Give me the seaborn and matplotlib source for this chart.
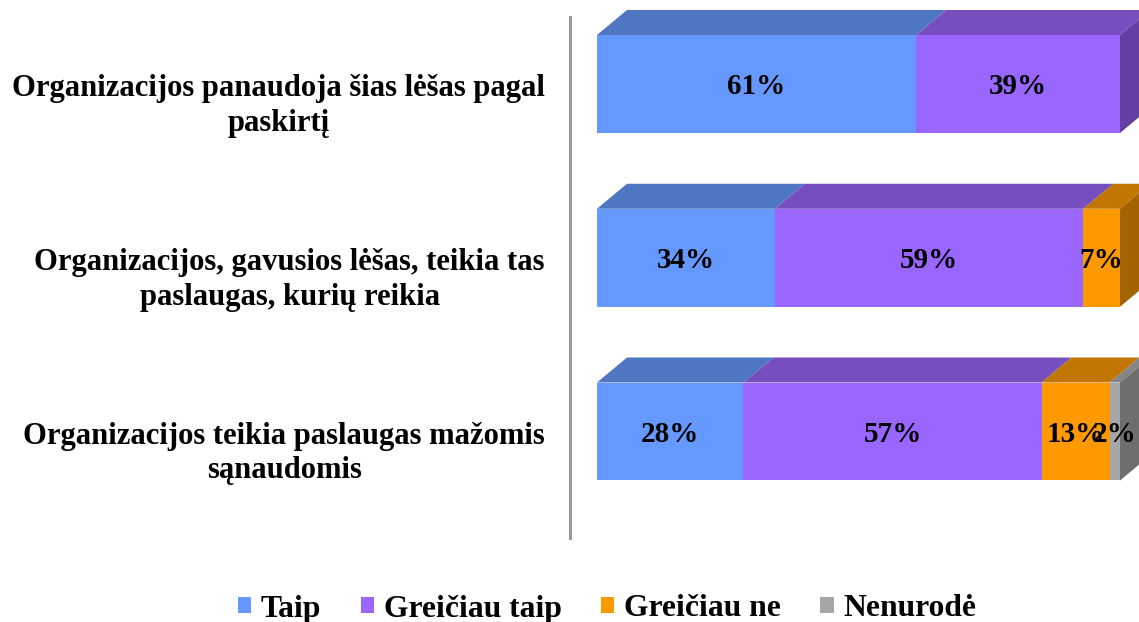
import matplotlib
matplotlib.use("Agg")
import matplotlib.pyplot as plt
from matplotlib.patches import Polygon, Patch
import seaborn as sns
import numpy as np
import pandas as pd

# ---- data ----
categories = [
    "Organizacijos panaudoja šias lėšas pagal\npaskirtį",
    "Organizacijos, gavusios lėšas, teikia tas\npaslaugas, kurių reikia",
    "Organizacijos teikia paslaugas mažomis\nsąnaudomis",
]
series_names = ["Taip", "Greičiau taip", "Greičiau ne", "Nenurodė"]
taip = [61, 34, 28]
greiciau_taip = [39, 59, 57]
greiciau_ne = [0, 7, 13]
nenurode = [0, 0, 2]

front_colors = ["#6699FF", "#9966FF", "#FF9900", "#A6A6A6"]
top_colors = ["#4F76C0", "#764EBE", "#C07600", "#858585"]
side_colors = ["#4A64A8", "#633FA1", "#A36400", "#6E6E6E"]

sns.set_style("white")
plt.rcParams["font.family"] = ["Liberation Serif", "DejaVu Serif"]
plt.rcParams["font.weight"] = "bold"
plt.rcParams["text.color"] = "black"

W, H = 1139, 622
fig = plt.figure(figsize=(W / 100, H / 100), dpi=100)
ax = fig.add_axes([570 / W, 1 - 538 / H, (W - 570) / W, (538 - 17) / H])

series = [taip, greiciau_taip, greiciau_ne, nenurode]
vals = np.array(series, dtype=float)  # shape (4, 3)
cums = np.cumsum(vals, axis=0)

bar_h = 0.564
# draw cumulative bars from the largest down so that segments stack
for k in range(len(series) - 1, -1, -1):
    df = pd.DataFrame({"cat": categories, "val": cums[k]})
    sns.barplot(data=df, x="val", y="cat", orient="h", color=front_colors[k],
                saturation=1, width=bar_h, linewidth=0, edgecolor="none", ax=ax)

# axis geometry
px_per_unit = (1120 - 597) / 100.0
ax.set_xlim(-(597 - 570) / px_per_unit, (W - 597) / px_per_unit)
ax.set_ylim(2 + (538 - 431.5) / 173.75, -(84 - 17) / 173.75)

# 3D faces
dx = 30 / px_per_unit
dy = 25 / 173.75
for i in range(len(categories)):
    top = i - bar_h / 2
    bot = i + bar_h / 2
    last_k = None
    for k in range(len(series)):
        a = cums[k][i] - vals[k][i]
        b = cums[k][i]
        if vals[k][i] <= 0:
            continue
        last_k = k
        ax.add_patch(Polygon([(a, top), (b, top), (b + dx, top - dy), (a + dx, top - dy)],
                             closed=True, facecolor=top_colors[k], edgecolor="none",
                             clip_on=False, zorder=2))
    T = cums[-1][i]
    ax.add_patch(Polygon([(T, top), (T + dx, top - dy), (T + dx, bot - dy), (T, bot)],
                         closed=True, facecolor=side_colors[last_k], edgecolor="none",
                         clip_on=False, zorder=2))
    # value labels
    for k in range(len(series)):
        v = vals[k][i]
        if v <= 0:
            continue
        cx = cums[k][i] - v / 2
        ax.text(cx, i + 0.015, f"{int(v)}%", ha="center", va="center",
                fontsize=21, fontweight="bold", color="black", zorder=5)

# category labels
ax.set_yticks([])
ax.set_xticks([])
ax.set_xlabel("")
ax.set_ylabel("")
for i, c in enumerate(categories):
    ax.annotate(c, xy=(0, i), xycoords=ax.get_yaxis_transform(),
                xytext=(-25, -22), textcoords="offset pixels",
                ha="right", va="center", multialignment="center",
                fontsize=22.1, fontweight="bold", linespacing=1.27,
                color="black", annotation_clip=False)

for s in ["top", "right", "bottom"]:
    ax.spines[s].set_visible(False)
ax.spines["left"].set_color("#999999")
ax.spines["left"].set_linewidth(2.2)
ax.patch.set_alpha(0)

handles = [Patch(facecolor=c, edgecolor="none") for c in front_colors]
fig.legend(handles, series_names, loc="center", bbox_to_anchor=(607 / W, 1 - 609 / H),
           ncol=4, frameon=False, handlelength=0.42, handleheight=0.42,
           handletextpad=0.3, columnspacing=1.25, labelcolor="black",
           prop={"family": "Liberation Serif", "weight": "bold", "size": 22.8})

fig.savefig("out.png", dpi=100)
